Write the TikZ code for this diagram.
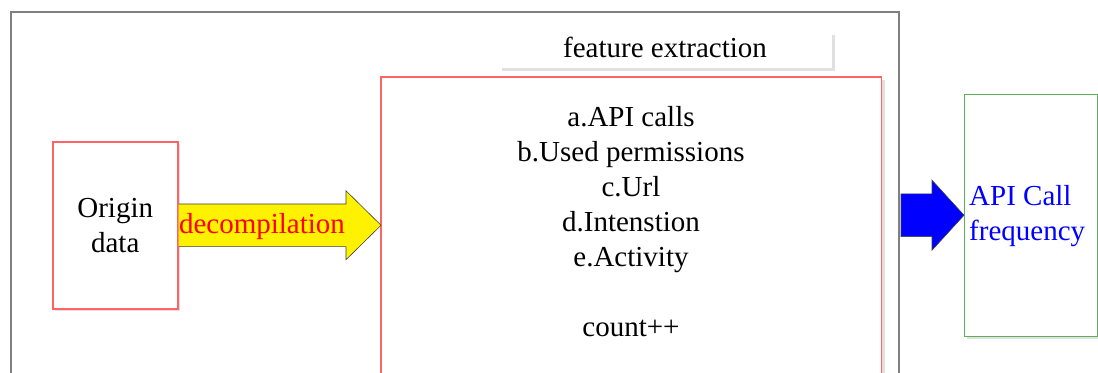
\documentclass[tikz,border=0pt]{standalone}
\usepackage{fontspec}
\setmainfont{Liberation Serif}
\newfontfamily\tnr{Liberation Serif}
\usetikzlibrary{calc}
\definecolor{framegray}{RGB}{128,128,128}
\definecolor{boxred}{RGB}{255,100,100}
\definecolor{boxgreen}{RGB}{90,175,90}
\definecolor{shadowgray}{RGB}{224,224,224}
\definecolor{labelblue}{RGB}{0,0,255}
\begin{document}
\begin{tikzpicture}[x=1bp,y=-1bp,
  txt/.style={font=\tnr\fontsize{29bp}{35bp}\selectfont, inner sep=0pt},
  redbox/.style={draw=boxred, line width=1.5bp, fill=white, inner sep=0pt},
  greenbox/.style={draw=boxgreen, line width=1.4bp, fill=white, inner sep=0pt},
  redline/.style={draw=boxred, line width=1.5bp},
  arrowline/.style={draw=black!75, line width=0.6bp, line join=miter},
]
\useasboundingbox (0,0) rectangle (1098,372);
\clip (0,0) rectangle (1098,372);
% outer frame (runs past the bottom edge)
\node[draw=framegray, line width=1.5bp, anchor=north west, minimum width=888bp, minimum height=420bp, inner sep=0pt] (frame) at (10,11) {};
% shadows
\fill[shadowgray] (55,144) rectangle (180,311);
\fill[shadowgray] (384,80) rectangle (885,440);
\fill[shadowgray] (502,35) rectangle (835,71);
\fill[shadowgray] (967,97) rectangle (1100,339);
% boxes
\node[redbox, anchor=north west, minimum width=125bp, minimum height=167bp, txt, align=center] (origin) at (52,141) {Origin\\data};
\node[fill=white, anchor=north west, minimum width=500bp, minimum height=360bp, inner sep=0pt] (fbox) at (381,77) {};
\draw[redline] (fbox.south west) -- (fbox.north west) -- (fbox.north east) -- (fbox.south east);
\node[fill=white, anchor=north west, minimum width=333bp, minimum height=36bp, inner sep=0pt] (flabel) at (499,32) {};
\node[txt, anchor=base] (flabeltext) at (665,57) {feature extraction};
\node[txt, anchor=base, align=center] (feats) at (631,336) {a.API calls\\b.Used permissions\\c.Url\\d.Intenstion\\e.Activity\\[35bp]count++};
\node[greenbox, anchor=north west, minimum width=133bp, minimum height=242bp] (api) at (964,94) {};
\node[txt, anchor=base west, align=left, text=labelblue] (apitext) at (969,240) {API Call\\frequency};
% yellow arrow
\coordinate (ytip) at (fbox.west |- origin.east);
\coordinate (y1) at ($(origin.east)+(0,-21.3)$);
\coordinate (y2) at ($(ytip)+(-35,-21.3)$);
\coordinate (y3) at ($(ytip)+(-35,-34.5)$);
\coordinate (y4) at ($(ytip)+(-35,34.5)$);
\coordinate (y5) at ($(ytip)+(-35,21.3)$);
\coordinate (y6) at ($(origin.east)+(0,21.3)$);
\fill[yellow] (y1) -- (y2) -- (y3) -- (ytip) -- (y4) -- (y5) -- (y6) -- cycle;
\draw[arrowline] (y1) -- (y2) -- (y3) -- (ytip) -- (y4) -- (y5) -- (y6);
\node[txt, text=red, anchor=base] (decomp) at (262,233) {decompilation};
% blue arrow
\coordinate (btip) at ($(api.west)+(0,-0.5)$);
\path[fill=labelblue, arrowline]
  ($(btip)+(-63,-21.4)$) -- ($(btip)+(-32,-21.4)$) -- ($(btip)+(-32,-35)$) -- (btip)
  -- ($(btip)+(-32,35)$) -- ($(btip)+(-32,21.4)$) -- ($(btip)+(-63,21.4)$) -- cycle;
\end{tikzpicture}
\end{document}
